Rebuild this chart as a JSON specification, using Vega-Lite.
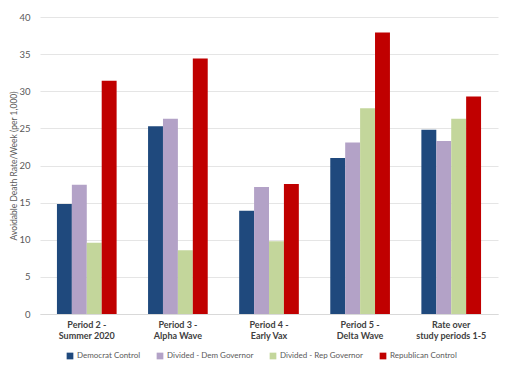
{
  "$schema": "https://vega.github.io/schema/vega-lite/v6.json",
  "autosize": {"type": "none"},
  "width": 458,
  "height": 297,
  "padding": {"left": 40, "top": 17, "right": 9, "bottom": 56},
  "background": "white",
  "config": {
    "font": "Lato",
    "view": {"stroke": null},
    "axis": {"labelFont": "Lato", "titleFont": "Lato"},
    "legend": {"labelFont": "Lato"}
  },
  "data": {
    "values": [
      {"period": "Period 2 -|Summer 2020", "group": "Democrat Control", "rate": 14.8},
      {"period": "Period 2 -|Summer 2020", "group": "Divided - Dem Governor", "rate": 17.4},
      {"period": "Period 2 -|Summer 2020", "group": "Divided - Rep Governor", "rate": 9.6},
      {"period": "Period 2 -|Summer 2020", "group": "Republican Control", "rate": 31.4},
      {"period": "Period 3 -|Alpha Wave", "group": "Democrat Control", "rate": 25.3},
      {"period": "Period 3 -|Alpha Wave", "group": "Divided - Dem Governor", "rate": 26.3},
      {"period": "Period 3 -|Alpha Wave", "group": "Divided - Rep Governor", "rate": 8.6},
      {"period": "Period 3 -|Alpha Wave", "group": "Republican Control", "rate": 34.4},
      {"period": "Period 4 -|Early Vax", "group": "Democrat Control", "rate": 13.9},
      {"period": "Period 4 -|Early Vax", "group": "Divided - Dem Governor", "rate": 17.1},
      {"period": "Period 4 -|Early Vax", "group": "Divided - Rep Governor", "rate": 9.8},
      {"period": "Period 4 -|Early Vax", "group": "Republican Control", "rate": 17.5},
      {"period": "Period 5 -|Delta Wave", "group": "Democrat Control", "rate": 21.0},
      {"period": "Period 5 -|Delta Wave", "group": "Divided - Dem Governor", "rate": 23.1},
      {"period": "Period 5 -|Delta Wave", "group": "Divided - Rep Governor", "rate": 27.7},
      {"period": "Period 5 -|Delta Wave", "group": "Republican Control", "rate": 37.9},
      {"period": "Rate over|study periods 1-5", "group": "Democrat Control", "rate": 24.8},
      {"period": "Rate over|study periods 1-5", "group": "Divided - Dem Governor", "rate": 23.3},
      {"period": "Rate over|study periods 1-5", "group": "Divided - Rep Governor", "rate": 26.3},
      {"period": "Rate over|study periods 1-5", "group": "Republican Control", "rate": 29.3}
    ]
  },
  "mark": {"type": "bar"},
  "encoding": {
    "x": {
      "field": "period",
      "type": "nominal",
      "sort": null,
      "scale": {"paddingInner": 0.345, "paddingOuter": 0.186},
      "axis": {
        "title": null,
        "labelAngle": 0,
        "labelExpr": "split(datum.value, '|')",
        "labelFontWeight": "bold",
        "labelFontSize": 9,
        "labelColor": "#404040",
        "labelPadding": 6,
        "labelLineHeight": 11.5,
        "ticks": false,
        "domainColor": "#D9D9D9",
        "grid": false
      }
    },
    "xOffset": {"field": "group", "type": "nominal", "sort": null, "scale": {"paddingInner": 0, "paddingOuter": 0}},
    "y": {
      "field": "rate",
      "type": "quantitative",
      "scale": {"domain": [0, 40]},
      "axis": {
        "title": "Avoidable Death Rate/Week (per 1,000)",
        "titleFontSize": 8.5,
        "titleFontWeight": "normal",
        "titleColor": "#595959",
        "titlePadding": 0,
        "values": [0, 5, 10, 15, 20, 25, 30, 35, 40],
        "labelFontSize": 9.5,
        "labelColor": "#595959",
        "labelPadding": 10,
        "labelOverlap": false,
        "ticks": false,
        "domain": false,
        "gridColor": "#E5E5E5"
      }
    },
    "color": {
      "field": "group",
      "type": "nominal",
      "sort": null,
      "scale": {
        "domain": ["Democrat Control", "Divided - Dem Governor", "Divided - Rep Governor", "Republican Control"],
        "range": ["#1F497D", "#B3A2C7", "#C3D69B", "#C00000"]
      },
      "legend": {
        "title": null,
        "orient": "none",
        "legendX": 26,
        "legendY": 335,
        "direction": "horizontal",
        "symbolType": "square",
        "symbolSize": 45,
        "symbolStrokeWidth": 0,
        "labelFontSize": 8,
        "labelColor": "#595959",
        "columnPadding": 15,
        "labelOffset": 3
      }
    }
  }
}
